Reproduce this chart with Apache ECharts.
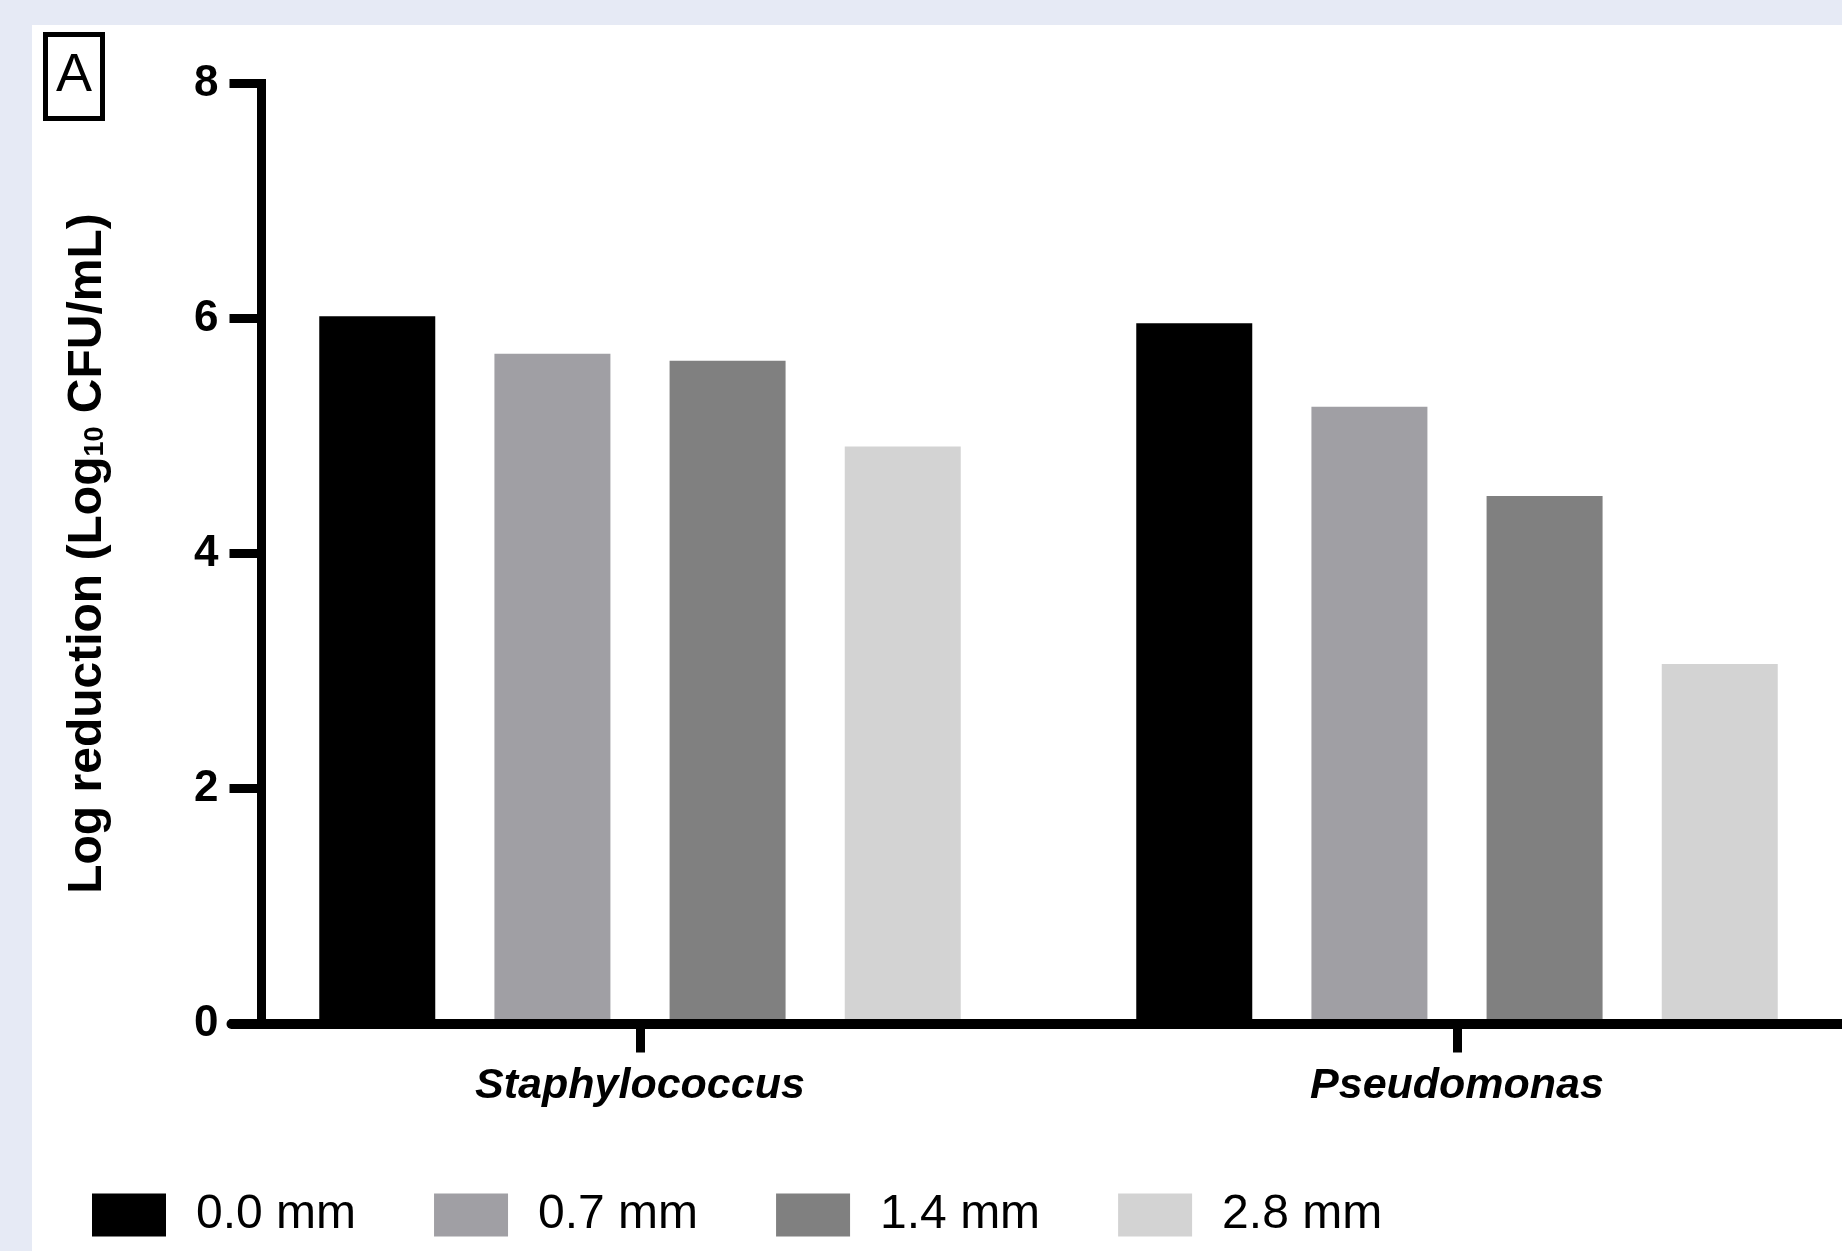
<!DOCTYPE html>
<html><head><meta charset="utf-8">
<script src="https://cdn.jsdelivr.net/npm/echarts@6/dist/echarts.min.js"></script>
<style>
html,body{margin:0;padding:0;background:#e6eaf5;overflow:hidden;}
#panel{position:absolute;left:32px;top:25px;width:1810px;height:1226px;background:#ffffff;}
#chart{position:absolute;left:0;top:0;width:1842px;height:1251px;}
</style></head><body>
<div id="panel"></div><div id="chart"></div>
<script>
// ---- data ----
const categories = ['Staphylococcus', 'Pseudomonas'];
const seriesNames = ['0.0 mm', '0.7 mm', '1.4 mm', '2.8 mm'];
const values00 = [6.02, 5.96];
const values07 = [5.70, 5.25];
const values14 = [5.64, 4.49];
const values28 = [4.91, 3.06];
const yMin = 0, yMax = 8, yStep = 2;

// ---- style ----
const FONT = "'Liberation Sans', Arial, sans-serif";
const colors = ['#000000', '#a09fa4', '#808080', '#d3d3d3'];
const seriesValues = [values00, values07, values14, values28];

const chart = echarts.init(document.getElementById('chart'), null, {renderer: 'canvas'});
chart.setOption({
  animation: false,
  backgroundColor: 'transparent',
  grid: {left: 231.5, top: 83.5, width: 1634, height: 940, containLabel: false, outerBoundsMode: 'none'},
  xAxis: {
    type: 'category',
    data: categories,
    z: 5,
    axisLine: {show: true, lineStyle: {color: '#000', width: 10}},
    axisTick: {show: true, alignWithLabel: true, length: 29, lineStyle: {color: '#000', width: 9}},
    axisLabel: {color: '#000', fontFamily: FONT, fontSize: 43, fontWeight: 'bold', fontStyle: 'italic', margin: 41}
  },
  yAxis: {
    type: 'value',
    min: yMin, max: yMax, interval: yStep,
    offset: -30,
    z: 5,
    splitLine: {show: false},
    axisLine: {show: true, lineStyle: {color: '#000', width: 9, cap: 'square'}},
    axisTick: {show: true, length: 32, lineStyle: {color: '#000', width: 9}},
    axisLabel: {color: '#000', fontFamily: FONT, fontSize: 44, fontWeight: 'bold', margin: 43},
    name: 'Log reduction (Log{sub|10} CFU/mL)',
    nameLocation: 'middle',
    nameGap: 150,
    nameTextStyle: {
      color: '#000', fontFamily: FONT, fontSize: 48, fontWeight: 'bold',
      rich: {sub: {fontSize: 27, fontWeight: 'bold', fontFamily: FONT, color: '#000', verticalAlign: 'bottom', padding: [0, 0, 2, 0]}}
    }
  },
  legend: {
    left: 92, top: 1191, padding: 0,
    icon: 'rect', itemWidth: 74, itemHeight: 43, itemGap: 78,
    data: seriesNames,
    textStyle: {color: '#000', fontFamily: FONT, fontSize: 48, padding: [0, 0, 0, 25]}
  },
  graphic: [
    {type: 'rect', shape: {x: 45.5, y: 34.5, width: 57, height: 84}, style: {fill: 'none', stroke: '#000', lineWidth: 5}},
    {type: 'text', x: 74, y: 76, style: {text: 'A', fontFamily: FONT, fontSize: 54, fill: '#000', align: 'center', verticalAlign: 'middle'}}
  ],
  series: seriesNames.map((name, i) => ({
    name: name,
    type: 'bar',
    data: seriesValues[i],
    barWidth: 116,
    barGap: '51%',
    itemStyle: {color: colors[i]}
  }))
});
</script>
</body></html>
